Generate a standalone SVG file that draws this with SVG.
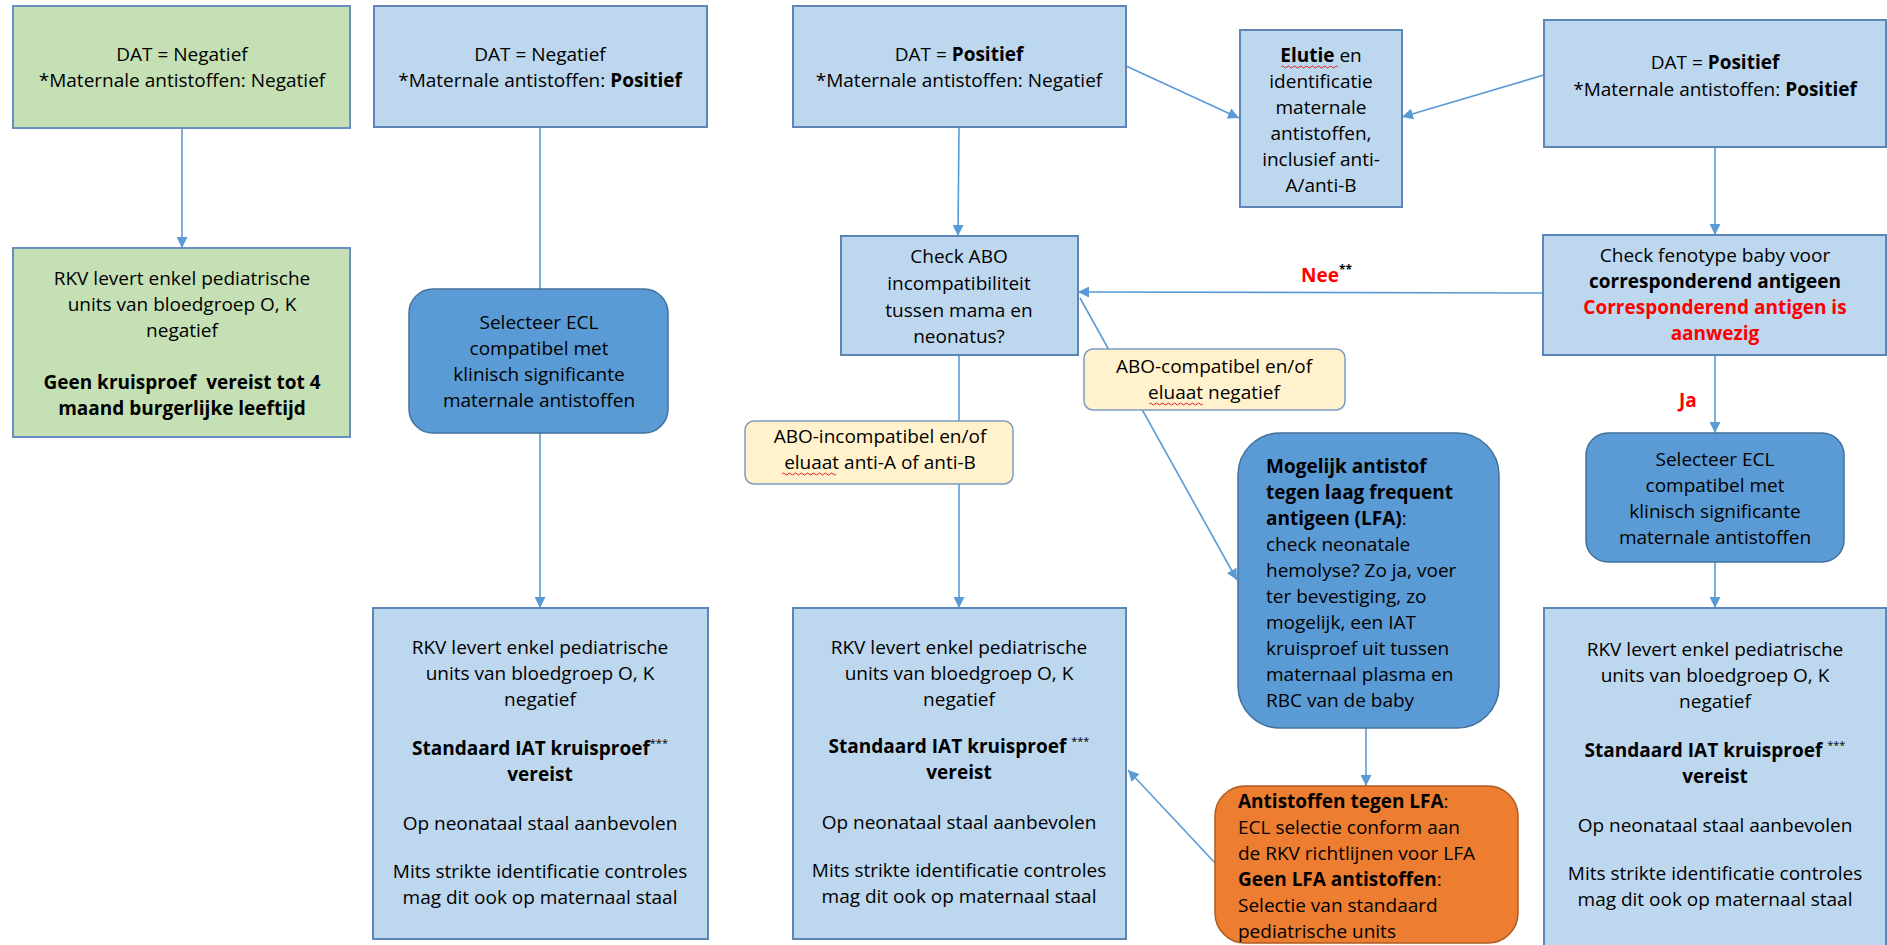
<svg xmlns="http://www.w3.org/2000/svg" width="1887" height="945" viewBox="0 0 1887 945">
<defs>
<marker id="arr" viewBox="0 0 10 10" refX="10" refY="5" markerWidth="11" markerHeight="11" markerUnits="userSpaceOnUse" orient="auto">
<path d="M0,0 L10,5 L0,10 z" fill="#5B9BD5"/>
</marker>
<style>
text{font-family:"Open Sans","Noto Sans","Liberation Sans",sans-serif;font-size:19px;fill:#000}
.c{text-anchor:middle}
.b{font-weight:bold}
.red{fill:#FF0000}
.box{fill:#BDD7EE;stroke:#5B86B5;stroke-width:2}
.green{fill:#C5E0B4;stroke:#6A8EBF;stroke-width:2}
.dark{fill:#5B9BD5;stroke:#41719C;stroke-width:1.5}
.yel{fill:#FFF2CC;stroke:#7D9BC1;stroke-width:1.5}
.org{fill:#ED7D31;stroke:#AE5A21;stroke-width:1.5}
.ln{stroke:#5B9BD5;stroke-width:1.6;fill:none}
.sq{stroke:#E02020;stroke-width:1;fill:none}
.sup{font-weight:normal;font-size:11px}
</style>
</defs>
<rect width="1887" height="945" fill="#FFFFFF"/>

<g id="connectors">
<line class="ln" x1="182" y1="128" x2="182" y2="248" marker-end="url(#arr)"/>
<line class="ln" x1="540" y1="127" x2="540" y2="289"/>
<line class="ln" x1="540" y1="433" x2="540" y2="608" marker-end="url(#arr)"/>
<line class="ln" x1="959" y1="127" x2="958" y2="236" marker-end="url(#arr)"/>
<line class="ln" x1="1126" y1="66" x2="1239" y2="118" marker-end="url(#arr)"/>
<line class="ln" x1="1544" y1="75" x2="1402" y2="117" marker-end="url(#arr)"/>
<line class="ln" x1="1715" y1="147" x2="1715" y2="235" marker-end="url(#arr)"/>
<line class="ln" x1="1543" y1="293" x2="1078" y2="292" marker-end="url(#arr)"/>
<line class="ln" x1="1715" y1="355" x2="1715" y2="433" marker-end="url(#arr)"/>
<line class="ln" x1="1715" y1="562" x2="1715" y2="608" marker-end="url(#arr)"/>
<line class="ln" x1="959" y1="355" x2="959" y2="608" marker-end="url(#arr)"/>
<line class="ln" x1="1080" y1="298" x2="1237" y2="580" marker-end="url(#arr)"/>
<line class="ln" x1="1366" y1="728" x2="1366" y2="786" marker-end="url(#arr)"/>
<line class="ln" x1="1216" y1="864" x2="1128" y2="770" marker-end="url(#arr)"/>
<text class="b red" x="1301" y="282" font-size="21">Nee<tspan class="b" fill="#000" font-size="12" dy="-8">**</tspan></text>
<text class="b red" x="1679" y="407" font-size="21">Ja</text>
</g>

<g id="nodeA">
<rect class="green" x="13" y="6" width="337" height="122"/>
<text class="c" x="182" y="61">DAT = Negatief</text>
<text class="c" x="182" y="87">*Maternale antistoffen: Negatief</text>
</g>

<g id="nodeB">
<rect class="green" x="13" y="248" width="337" height="189"/>
<text class="c" x="182" y="285">RKV levert enkel pediatrische</text>
<text class="c" x="182" y="311">units van bloedgroep O, K</text>
<text class="c" x="182" y="337">negatief</text>
<text class="c b" x="182" y="389">Geen kruisproef&#160; vereist tot 4</text>
<text class="c b" x="182" y="415">maand burgerlijke leeftijd</text>
</g>

<g id="nodeC">
<rect class="box" x="374" y="6" width="333" height="121"/>
<text class="c" x="540" y="61">DAT = Negatief</text>
<text class="c" x="540" y="87">*Maternale antistoffen: <tspan class="b">Positief</tspan></text>
</g>

<g id="nodeD">
<rect class="dark" x="409" y="289" width="259" height="144" rx="24"/>
<text class="c" x="539" y="329">Selecteer ECL</text>
<text class="c" x="539" y="355">compatibel met</text>
<text class="c" x="539" y="381">klinisch significante</text>
<text class="c" x="539" y="407">maternale antistoffen</text>
</g>

<g id="nodeE">
<rect class="box" x="373" y="608" width="335" height="331"/>
<text class="c" x="540" y="654">RKV levert enkel pediatrische</text>
<text class="c" x="540" y="680">units van bloedgroep O, K</text>
<text class="c" x="540" y="706">negatief</text>
<text class="c b" x="540" y="755">Standaard IAT kruisproef<tspan class="sup" dy="-8">***</tspan></text>
<text class="c b" x="540" y="781">vereist</text>
<text class="c" x="540" y="830">Op neonataal staal aanbevolen</text>
<text class="c" x="540" y="878">Mits strikte identificatie controles</text>
<text class="c" x="540" y="904">mag dit ook op maternaal staal</text>
</g>

<g id="nodeF">
<rect class="box" x="793" y="6" width="333" height="121"/>
<text class="c" x="959" y="61">DAT = <tspan class="b">Positief</tspan></text>
<text class="c" x="959" y="87">*Maternale antistoffen: Negatief</text>
</g>

<g id="nodeG">
<rect class="box" x="1240" y="30" width="162" height="177"/>
<text class="c" x="1321" y="62"><tspan class="b">Elutie</tspan> en</text>
<path class="sq" d="M1281,67 q1.5,-2 3,0 t3,0 t3,0 t3,0 t3,0 t3,0 t3,0 t3,0 t3,0 t3,0 t3,0 t3,0 t3,0 t3,0 t3,0 t3,0 t3,0 t3,0 t3,0"/>
<text class="c" x="1321" y="88">identificatie</text>
<text class="c" x="1321" y="114">maternale</text>
<text class="c" x="1321" y="140">antistoffen,</text>
<text class="c" x="1321" y="166">inclusief anti-</text>
<text class="c" x="1321" y="192">A/anti-B</text>
</g>

<g id="nodeH">
<rect class="box" x="1544" y="20" width="342" height="127"/>
<text class="c" x="1715" y="69">DAT = <tspan class="b">Positief</tspan></text>
<text class="c" x="1715" y="96">*Maternale antistoffen: <tspan class="b">Positief</tspan></text>
</g>

<g id="nodeI">
<rect class="box" x="841" y="236" width="237" height="119"/>
<text class="c" x="959" y="263">Check ABO</text>
<text class="c" x="959" y="290">incompatibiliteit</text>
<text class="c" x="959" y="317">tussen mama en</text>
<text class="c" x="959" y="343">neonatus?</text>
</g>

<g id="nodeJ">
<rect class="box" x="1543" y="235" width="343" height="120"/>
<text class="c" x="1715" y="262">Check fenotype baby voor</text>
<text class="c b" x="1715" y="288">corresponderend antigeen</text>
<text class="c b red" x="1715" y="314">Corresponderend antigen is</text>
<text class="c b red" x="1715" y="340">aanwezig</text>
</g>

<g id="nodeK">
<rect class="yel" x="1084" y="349" width="261" height="61" rx="9"/>
<text class="c" x="1214" y="373">ABO-compatibel en/of</text>
<text class="c" x="1214" y="399">eluaat negatief</text>
<path class="sq" d="M1149,404 q1.5,-2 3,0 t3,0 t3,0 t3,0 t3,0 t3,0 t3,0 t3,0 t3,0 t3,0 t3,0 t3,0 t3,0 t3,0 t3,0 t3,0 t3,0 t3,0"/>
</g>

<g id="nodeL">
<rect class="yel" x="745" y="421" width="268" height="63" rx="9"/>
<text class="c" x="880" y="443">ABO-incompatibel en/of</text>
<text class="c" x="880" y="469">eluaat anti-A of anti-B</text>
<path class="sq" d="M782,474 q1.5,-2 3,0 t3,0 t3,0 t3,0 t3,0 t3,0 t3,0 t3,0 t3,0 t3,0 t3,0 t3,0 t3,0 t3,0 t3,0 t3,0 t3,0 t3,0"/>
</g>

<g id="nodeM">
<rect class="dark" x="1238" y="433" width="261" height="295" rx="42"/>
<text class="b" x="1266" y="473">Mogelijk antistof</text>
<text class="b" x="1266" y="499">tegen laag frequent</text>
<text x="1266" y="525"><tspan class="b">antigeen (LFA)</tspan>:</text>
<text x="1266" y="551">check neonatale</text>
<text x="1266" y="577">hemolyse? Zo ja, voer</text>
<text x="1266" y="603">ter bevestiging, zo</text>
<text x="1266" y="629">mogelijk, een IAT</text>
<text x="1266" y="655">kruisproef uit tussen</text>
<text x="1266" y="681">maternaal plasma en</text>
<text x="1266" y="707">RBC van de baby</text>
</g>

<g id="nodeN">
<rect class="org" x="1215" y="786" width="303" height="157" rx="30"/>
<text x="1238" y="808"><tspan class="b">Antistoffen tegen LFA</tspan>:</text>
<text x="1238" y="834">ECL selectie conform aan</text>
<text x="1238" y="860">de RKV richtlijnen voor LFA</text>
<text x="1238" y="886"><tspan class="b">Geen LFA antistoffen</tspan>:</text>
<text x="1238" y="912">Selectie van standaard</text>
<text x="1238" y="938">pediatrische units</text>
</g>

<g id="nodeO">
<rect class="dark" x="1586" y="433" width="258" height="129" rx="22"/>
<text class="c" x="1715" y="466">Selecteer ECL</text>
<text class="c" x="1715" y="492">compatibel met</text>
<text class="c" x="1715" y="518">klinisch significante</text>
<text class="c" x="1715" y="544">maternale antistoffen</text>
</g>

<g id="nodeP">
<rect class="box" x="1544" y="608" width="342" height="345"/>
<text class="c" x="1715" y="656">RKV levert enkel pediatrische</text>
<text class="c" x="1715" y="682">units van bloedgroep O, K</text>
<text class="c" x="1715" y="708">negatief</text>
<text class="c b" x="1715" y="757">Standaard IAT kruisproef <tspan class="sup" dy="-8">***</tspan></text>
<text class="c b" x="1715" y="783">vereist</text>
<text class="c" x="1715" y="832">Op neonataal staal aanbevolen</text>
<text class="c" x="1715" y="880">Mits strikte identificatie controles</text>
<text class="c" x="1715" y="906">mag dit ook op maternaal staal</text>
</g>

<g id="nodeQ">
<rect class="box" x="793" y="608" width="333" height="331"/>
<text class="c" x="959" y="654">RKV levert enkel pediatrische</text>
<text class="c" x="959" y="680">units van bloedgroep O, K</text>
<text class="c" x="959" y="706">negatief</text>
<text class="c b" x="959" y="753">Standaard IAT kruisproef <tspan class="sup" dy="-8">***</tspan></text>
<text class="c b" x="959" y="779">vereist</text>
<text class="c" x="959" y="829">Op neonataal staal aanbevolen</text>
<text class="c" x="959" y="877">Mits strikte identificatie controles</text>
<text class="c" x="959" y="903">mag dit ook op maternaal staal</text>
</g>
</svg>
